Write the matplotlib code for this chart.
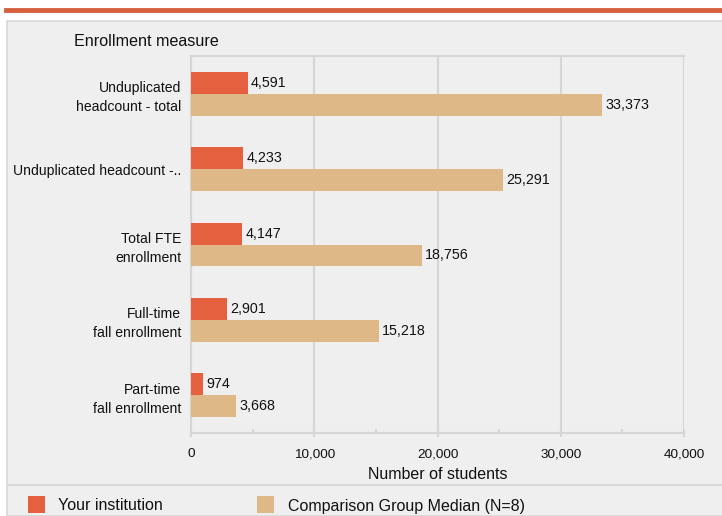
import matplotlib.pyplot as plt
from matplotlib.patches import Rectangle
from matplotlib.lines import Line2D

plt.rcParams['font.family'] = ['Liberation Sans', 'DejaVu Sans']

# data
measures = ['Unduplicated\nheadcount - total', 'Unduplicated headcount -..',
            'Total FTE\nenrollment', 'Full-time\nfall enrollment',
            'Part-time\nfall enrollment']
your_inst = [4591, 4233, 4147, 2901, 974]
comparison = [33373, 25291, 18756, 15218, 3668]
series_names = ['Your institution', 'Comparison Group Median (N=8)']

c_inst = '#e5603e'
c_comp = '#dfb887'
grid_c = '#d6d6d6'
bg = '#efefef'
txt = '#111111'

W, H = 722, 516
fig = plt.figure(figsize=(W / 100, H / 100), dpi=100)
fig.patch.set_facecolor('white')

# panel and top rule (behind the axes)
fig.patches.append(Rectangle((7 / W, 0), 1, 1 - 21 / H, transform=fig.transFigure,
                             facecolor=bg, edgecolor='#d8d8d8', lw=1.2, zorder=-10))
fig.lines.append(Line2D([6 / W, 1], [1 - 9.5 / H, 1 - 9.5 / H], transform=fig.transFigure,
                        color='#d4603f', lw=3.5, zorder=-5))
fig.lines.append(Line2D([7 / W, 1], [1 - 485 / H, 1 - 485 / H], transform=fig.transFigure,
                        color='#d8d8d8', lw=1.5, zorder=-5))

ax = fig.add_axes([191 / W, 1 - 433 / H, (684 - 191) / W, (433 - 56) / H])
ax.set_facecolor(bg)

h = 0.29
pos = list(range(len(measures)))
ax.barh([p - h / 2 for p in pos], your_inst, height=h, color=c_inst, zorder=3)
ax.barh([p + h / 2 for p in pos], comparison, height=h, color=c_comp, zorder=3)

for p, v in zip(pos, your_inst):
    ax.text(v + 250, p - h / 2, f'{v:,}', va='center', ha='left', fontsize=10.3, color=txt)
for p, v in zip(pos, comparison):
    ax.text(v + 250, p + h / 2, f'{v:,}', va='center', ha='left', fontsize=10.3, color=txt)

ax.set_ylim(4.5, -0.5)
ax.set_xlim(0, 40000)
ax.set_yticks(pos)
ax.set_yticklabels(measures, fontsize=10.1, color=txt, linespacing=1.45)
ax.tick_params(axis='y', length=0, pad=7)
ax.set_xticks([0, 10000, 20000, 30000, 40000])
ax.set_xticklabels(['0', '10,000', '20,000', '30,000', '40,000'], fontsize=9.7, color=txt)
ax.set_xticks([5000, 15000, 25000, 35000], minor=True)
ax.tick_params(axis='x', which='major', length=6, color=grid_c, width=1.5, pad=8, direction='inout')
ax.tick_params(axis='x', which='minor', length=3, color=grid_c, width=1.5, direction='in')
ax.xaxis.grid(True, color=grid_c, lw=1.5, zorder=0)
ax.set_axisbelow(True)
for side in ['left', 'bottom', 'top', 'right']:
    ax.spines[side].set_color(grid_c)
    ax.spines[side].set_linewidth(1.5)
ax.spines['right'].set_visible(False)
ax.set_xlabel('Number of students', fontsize=11.5, color=txt, labelpad=5)

fig.text(74 / W, 1 - 41 / H, 'Enrollment measure', fontsize=11.6, color=txt, va='center')

# legend
fig.patches.append(Rectangle((28 / W, 1 - 513 / H), 17 / W, 17 / H, transform=fig.transFigure,
                             facecolor=c_inst, edgecolor='none'))
fig.text(58 / W, 1 - 506 / H, series_names[0], fontsize=11.5, color=txt, va='center')
fig.patches.append(Rectangle((257 / W, 1 - 513 / H), 17 / W, 17 / H, transform=fig.transFigure,
                             facecolor=c_comp, edgecolor='none'))
fig.text(288 / W, 1 - 506 / H, series_names[1], fontsize=11.5, color=txt, va='center')

fig.savefig('out.png', dpi=100, facecolor=fig.get_facecolor())
